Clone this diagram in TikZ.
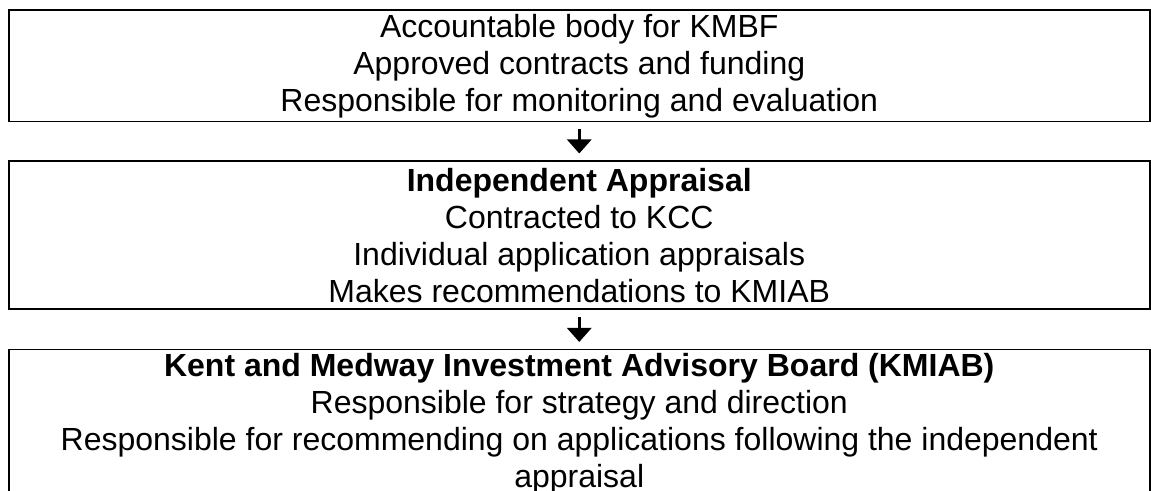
\documentclass[tikz,border=0pt]{standalone}
\usepackage{xcolor}
\usepackage{fontspec}
\setmainfont{Liberation Sans}
\usetikzlibrary{positioning,arrows.meta}

\begin{document}
\begin{tikzpicture}[
		x=0.5pt, y=-0.5pt,
		panel/.style = {shape=rectangle,
			draw, line width=0.75pt, align=center,
			minimum width=570.5pt, inner sep=0pt,
			execute at begin node=\rule{0pt}{14.5pt},
			font=\fontsize{16pt}{18.5pt}\selectfont},
		flow/.style = {-{Triangle[width=12pt,length=7pt]},
			line width=1.5pt, shorten <=3.5pt, shorten >=3.5pt}]
		\useasboundingbox (0,0) rectangle (1151,491);
		\node[panel, anchor=north west, minimum height=55.75pt] (kcc) at (8,9.5)
		{Accountable body for KMBF\\Approved contracts and funding\\Responsible for monitoring and evaluation};
		\node[panel, below=19pt of kcc, minimum height=74pt] (appraisal)
		{\textbf{Independent Appraisal}\\Contracted to KCC\\Individual application appraisals\\Makes recommendations to KMIAB};
		\node[panel, below=19.5pt of appraisal, minimum height=74pt] (kmiab)
		{\textbf{Kent and Medway Investment Advisory Board (KMIAB)}\\Responsible for strategy and direction\\Responsible for recommending on applications following the independent\\appraisal};
		\draw[flow] (kcc) -- (appraisal);
		\draw[flow] (appraisal) -- (kmiab);
\end{tikzpicture}
\end{document}
